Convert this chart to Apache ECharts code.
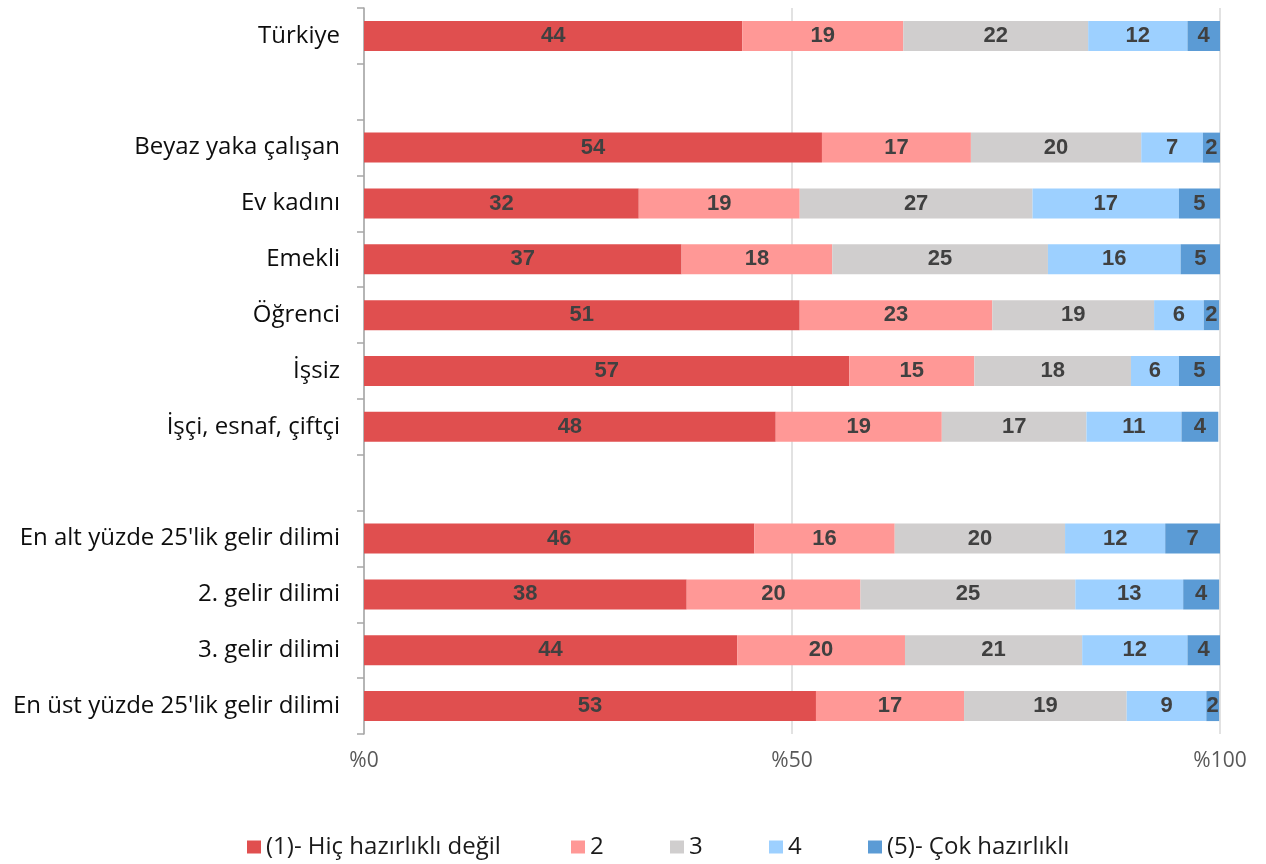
<!DOCTYPE html>
<html><head><meta charset="utf-8">
<script src="https://cdn.jsdelivr.net/npm/echarts@6/dist/echarts.min.js"></script>
<style>html,body{margin:0;padding:0;background:#fff}#c{width:1266px;height:864px}</style>
</head><body><div id="c"></div>
<script>
const categories = ["Türkiye", "", "Beyaz yaka çalışan", "Ev kadını", "Emekli", "Öğrenci", "İşsiz", "İşçi, esnaf, çiftçi", "", "En alt yüzde 25'lik gelir dilimi", "2. gelir dilimi", "3. gelir dilimi", "En üst yüzde 25'lik gelir dilimi"];
const seriesNames = ["(1)- Hiç hazırlıklı değil", "2", "3", "4", "(5)- Çok hazırlıklı"];
const s1 = [44.2, null, 53.5, 32.1, 37.1, 50.9, 56.7, 48.1, null, 45.6, 37.7, 43.6, 52.8];
const s2 = [18.8, null, 17.4, 18.8, 17.6, 22.5, 14.6, 19.4, null, 16.4, 20.3, 19.6, 17.3];
const s3 = [21.6, null, 19.9, 27.2, 25.2, 18.9, 18.3, 16.9, null, 19.9, 25.1, 20.7, 19.0];
const s4 = [11.6, null, 7.2, 17.1, 15.5, 5.8, 5.6, 11.1, null, 11.7, 12.6, 12.3, 9.3];
const s5 = [3.9, null, 2.0, 4.8, 4.6, 1.8, 4.8, 4.3, null, 6.6, 4.2, 3.9, 1.5];
const xTicks = [0, 50, 100];
const colors = ["#E04F4F", "#FF9896", "#D0CECE", "#9DD0FF", "#5B9BD5"];

const allData = [s1, s2, s3, s4, s5];
const legendLeft = [247, 571, 670, 769, 868];
const textFont = "'Open Sans','Liberation Sans',sans-serif";
const chart = echarts.init(document.getElementById('c'), null, {renderer: 'canvas'});
chart.setOption({
  animation: false,
  grid: {left: 364, right: 46, top: 8, height: 726, containLabel: false},
  legend: seriesNames.map((n, i) => ({
    top: 835, left: legendLeft[i], itemWidth: 14, itemHeight: 13, itemGap: 0,
    icon: 'rect', padding: 0,
    textStyle: {fontFamily: textFont, fontSize: 24, color: '#1a1a1a', padding: [0, 0, 0, 0]},
    data: [n]
  })),
  xAxis: {
    type: 'value', min: 0, max: 100, interval: 50,
    axisLine: {show: false}, axisTick: {show: false},
    splitLine: {show: true, lineStyle: {color: '#D9D9D9', width: 1.5}},
    axisLabel: {
      margin: 17, fontSize: 21, color: '#595959',
      fontFamily: textFont,
      formatter: v => xTicks.includes(v) ? '%' + v : ''
    }
  },
  yAxis: {
    type: 'category', inverse: true, data: categories,
    axisLine: {show: true, lineStyle: {color: '#A6A6A6', width: 1.5}},
    axisTick: {show: true, length: 7, lineStyle: {color: '#A6A6A6', width: 1.5}},
    axisLabel: {margin: 24, fontSize: 24, color: '#0d0d0d', fontFamily: textFont}
  },
  series: seriesNames.map((n, i) => ({
    name: n, type: 'bar', stack: 'total', barWidth: 30,
    itemStyle: {color: colors[i]},
    label: {
      show: true, position: 'inside', color: '#404040', fontSize: 22, fontWeight: 'bold',
      fontFamily: "'Liberation Sans','Open Sans',sans-serif",
      formatter: p => p.value == null ? '' : String(Math.round(p.value))
    },
    data: allData[i]
  }))
});
</script></body></html>
